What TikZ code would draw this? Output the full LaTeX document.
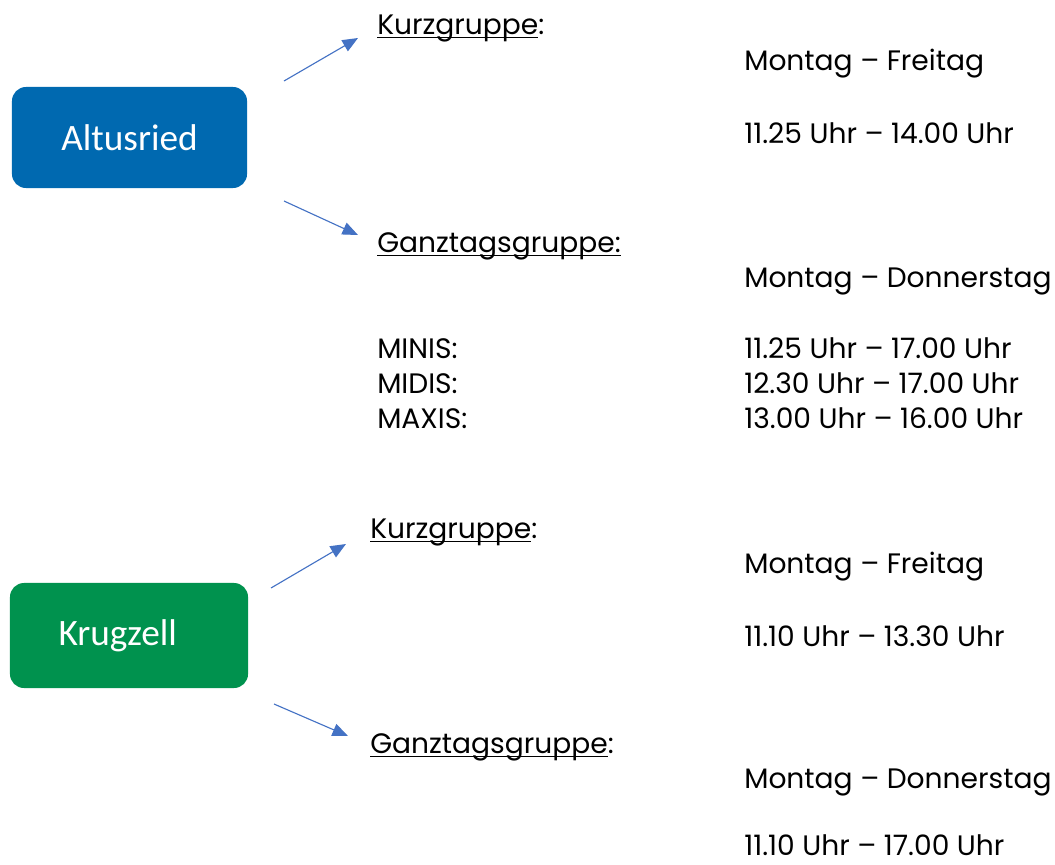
\documentclass[tikz,border=0pt]{standalone}
\usepackage{fontspec}
\usepackage{xcolor}
\usepackage{tikz}
\usetikzlibrary{arrows.meta}
\setmainfont{Poppins}
\newfontfamily\boxfont{Carlito}
\definecolor{altblue}{HTML}{0069B0}
\definecolor{krggreen}{HTML}{00924E}
\definecolor{arrowblue}{HTML}{4472C4}
\newcommand\ulword[1]{\setbox0\hbox{#1}\rlap{\rule[-3pt]{\wd0}{0.7pt}}\box0}
\tikzset{
  place/.style={draw=none, rounded corners=10pt, text=white, font=\boxfont\fontsize{26.5}{30}\selectfont, inner sep=0pt},
  txt/.style={anchor=base west, inner sep=0pt, font=\fontsize{20}{24}\selectfont},
  pfeil/.style={draw=arrowblue, line width=0.8pt, -{Triangle[length=11pt,width=9pt]}}
}

\begin{document}
\begin{tikzpicture}[x=0.025cm, y=-0.025cm]
        \useasboundingbox (0,0) rectangle (1055,864);

        % Altusried
        \node[place, fill=altblue, minimum width=5.875cm, minimum height=2.525cm] (alt) at (129.5,137.5) {Altusried};

        \coordinate (alt-k1) at (284,81);
        \coordinate (alt-k2) at (358,38);
        \coordinate (alt-g1) at (284,201);
        \coordinate (alt-g2) at (358,235);

        \node[txt] (alt-kurz) at (377,34) {\ulword{Kurzgruppe}:};
        \node[txt] (alt-kurz-tage) at (744,70) {Montag – Freitag};
        \node[txt] (alt-kurz-zeit) at (744,143) {11.25 Uhr – 14.00 Uhr};

        \node[txt] (alt-ganz) at (377,252) {\ulword{Ganztagsgruppe:}};
        \node[txt] (alt-ganz-tage) at (744,287) {Montag – Donnerstag};
        \node[txt] (minis) at (377,358) {MINIS:};
        \node[txt] (midis) at (377,393) {MIDIS:};
        \node[txt] (maxis) at (377,428) {MAXIS:};
        \node[txt] (minis-zeit) at (744,358) {11.25 Uhr – 17.00 Uhr};
        \node[txt] (midis-zeit) at (744,393) {12.30 Uhr – 17.00 Uhr};
        \node[txt] (maxis-zeit) at (744,428) {13.00 Uhr – 16.00 Uhr};

        % Krugzell
        \node[place, fill=krggreen, minimum width=5.95cm, minimum height=2.625cm] (krg) at (129,635.5) {\hspace*{-16pt}Krugzell};

        \coordinate (krg-k1) at (271,588);
        \coordinate (krg-k2) at (346,544);
        \coordinate (krg-g1) at (274,704);
        \coordinate (krg-g2) at (348,736);

        \node[txt] (krg-kurz) at (370,538) {\ulword{Kurzgruppe}:};
        \node[txt] (krg-kurz-tage) at (744,573) {Montag – Freitag};
        \node[txt] (krg-kurz-zeit) at (744,646) {11.10 Uhr – 13.30 Uhr};

        \node[txt] (krg-ganz) at (370,753) {\ulword{Ganztagsgruppe}:};
        \node[txt] (krg-ganz-tage) at (744,788) {Montag – Donnerstag};
        \node[txt] (krg-ganz-zeit) at (744,855) {11.10 Uhr – 17.00 Uhr};

        \draw[pfeil] (alt-k1) -- (alt-k2);
        \draw[pfeil] (alt-g1) -- (alt-g2);
        \draw[pfeil] (krg-k1) -- (krg-k2);
        \draw[pfeil] (krg-g1) -- (krg-g2);
    \end{tikzpicture}
\end{document}
